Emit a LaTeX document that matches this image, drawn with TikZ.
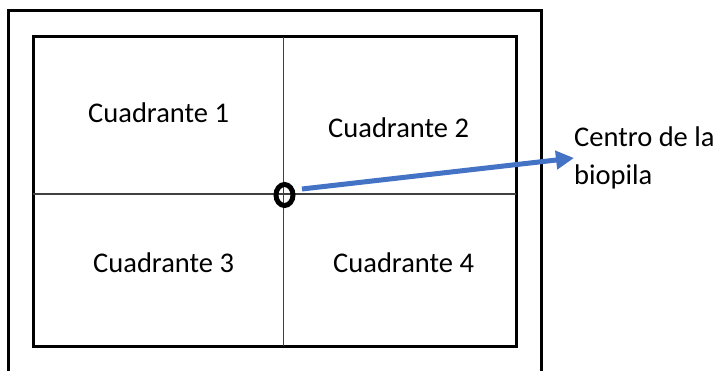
\documentclass[tikz,border=0pt]{standalone}
\usepackage{fontspec}
\setmainfont{Carlito}
\usetikzlibrary{arrows.meta,shapes.geometric}
\definecolor{arrowblue}{HTML}{4472C4}
\begin{document}
\begin{tikzpicture}[x=1pt,y=-1pt,
  frame/.style={line width=3pt,draw=black},
  grid/.style={line width=1.3pt,draw=black!75},
  lbl/.style={font=\fontsize{28.5}{34}\selectfont,anchor=base west,inner sep=0pt},
  ring/.style={ellipse,draw=black,line width=5pt,minimum width=17pt,minimum height=21pt,inner sep=0pt},
  bluearrow/.style={draw=arrowblue,line width=5pt,-{Triangle[length=18pt,width=18pt]}}]
\useasboundingbox (0,0) rectangle (720,371);
% outer frame (open at the bottom)
\draw[frame] (8,375) -- (8,11) -- (541.5,11) -- (541.5,375);
% inner rectangle
\draw[frame] (33,37) rectangle (516,346);
% quadrant lines
\draw[grid] (283.5,37) -- (283.5,346);
\draw[grid] (33,194) -- (516,194);
% labels
\node[lbl] (q1) at (88,122.5) {Cuadrante 1};
\node[lbl] (q2) at (328,138) {Cuadrante 2};
\node[lbl] (q3) at (93,273) {Cuadrante 3};
\node[lbl] (q4) at (333,273) {Cuadrante 4};
% centre marker
\node[ring] (c) at (284.5,195) {};
\coordinate (start) at (302,189);
\coordinate (tip) at (574,158);
\draw[bluearrow] (start) -- (tip);
\node[lbl] (t1) at (574,147) {Centro de la};
\node[lbl] (t2) at (574,185) {biopila};
\end{tikzpicture}
\end{document}
